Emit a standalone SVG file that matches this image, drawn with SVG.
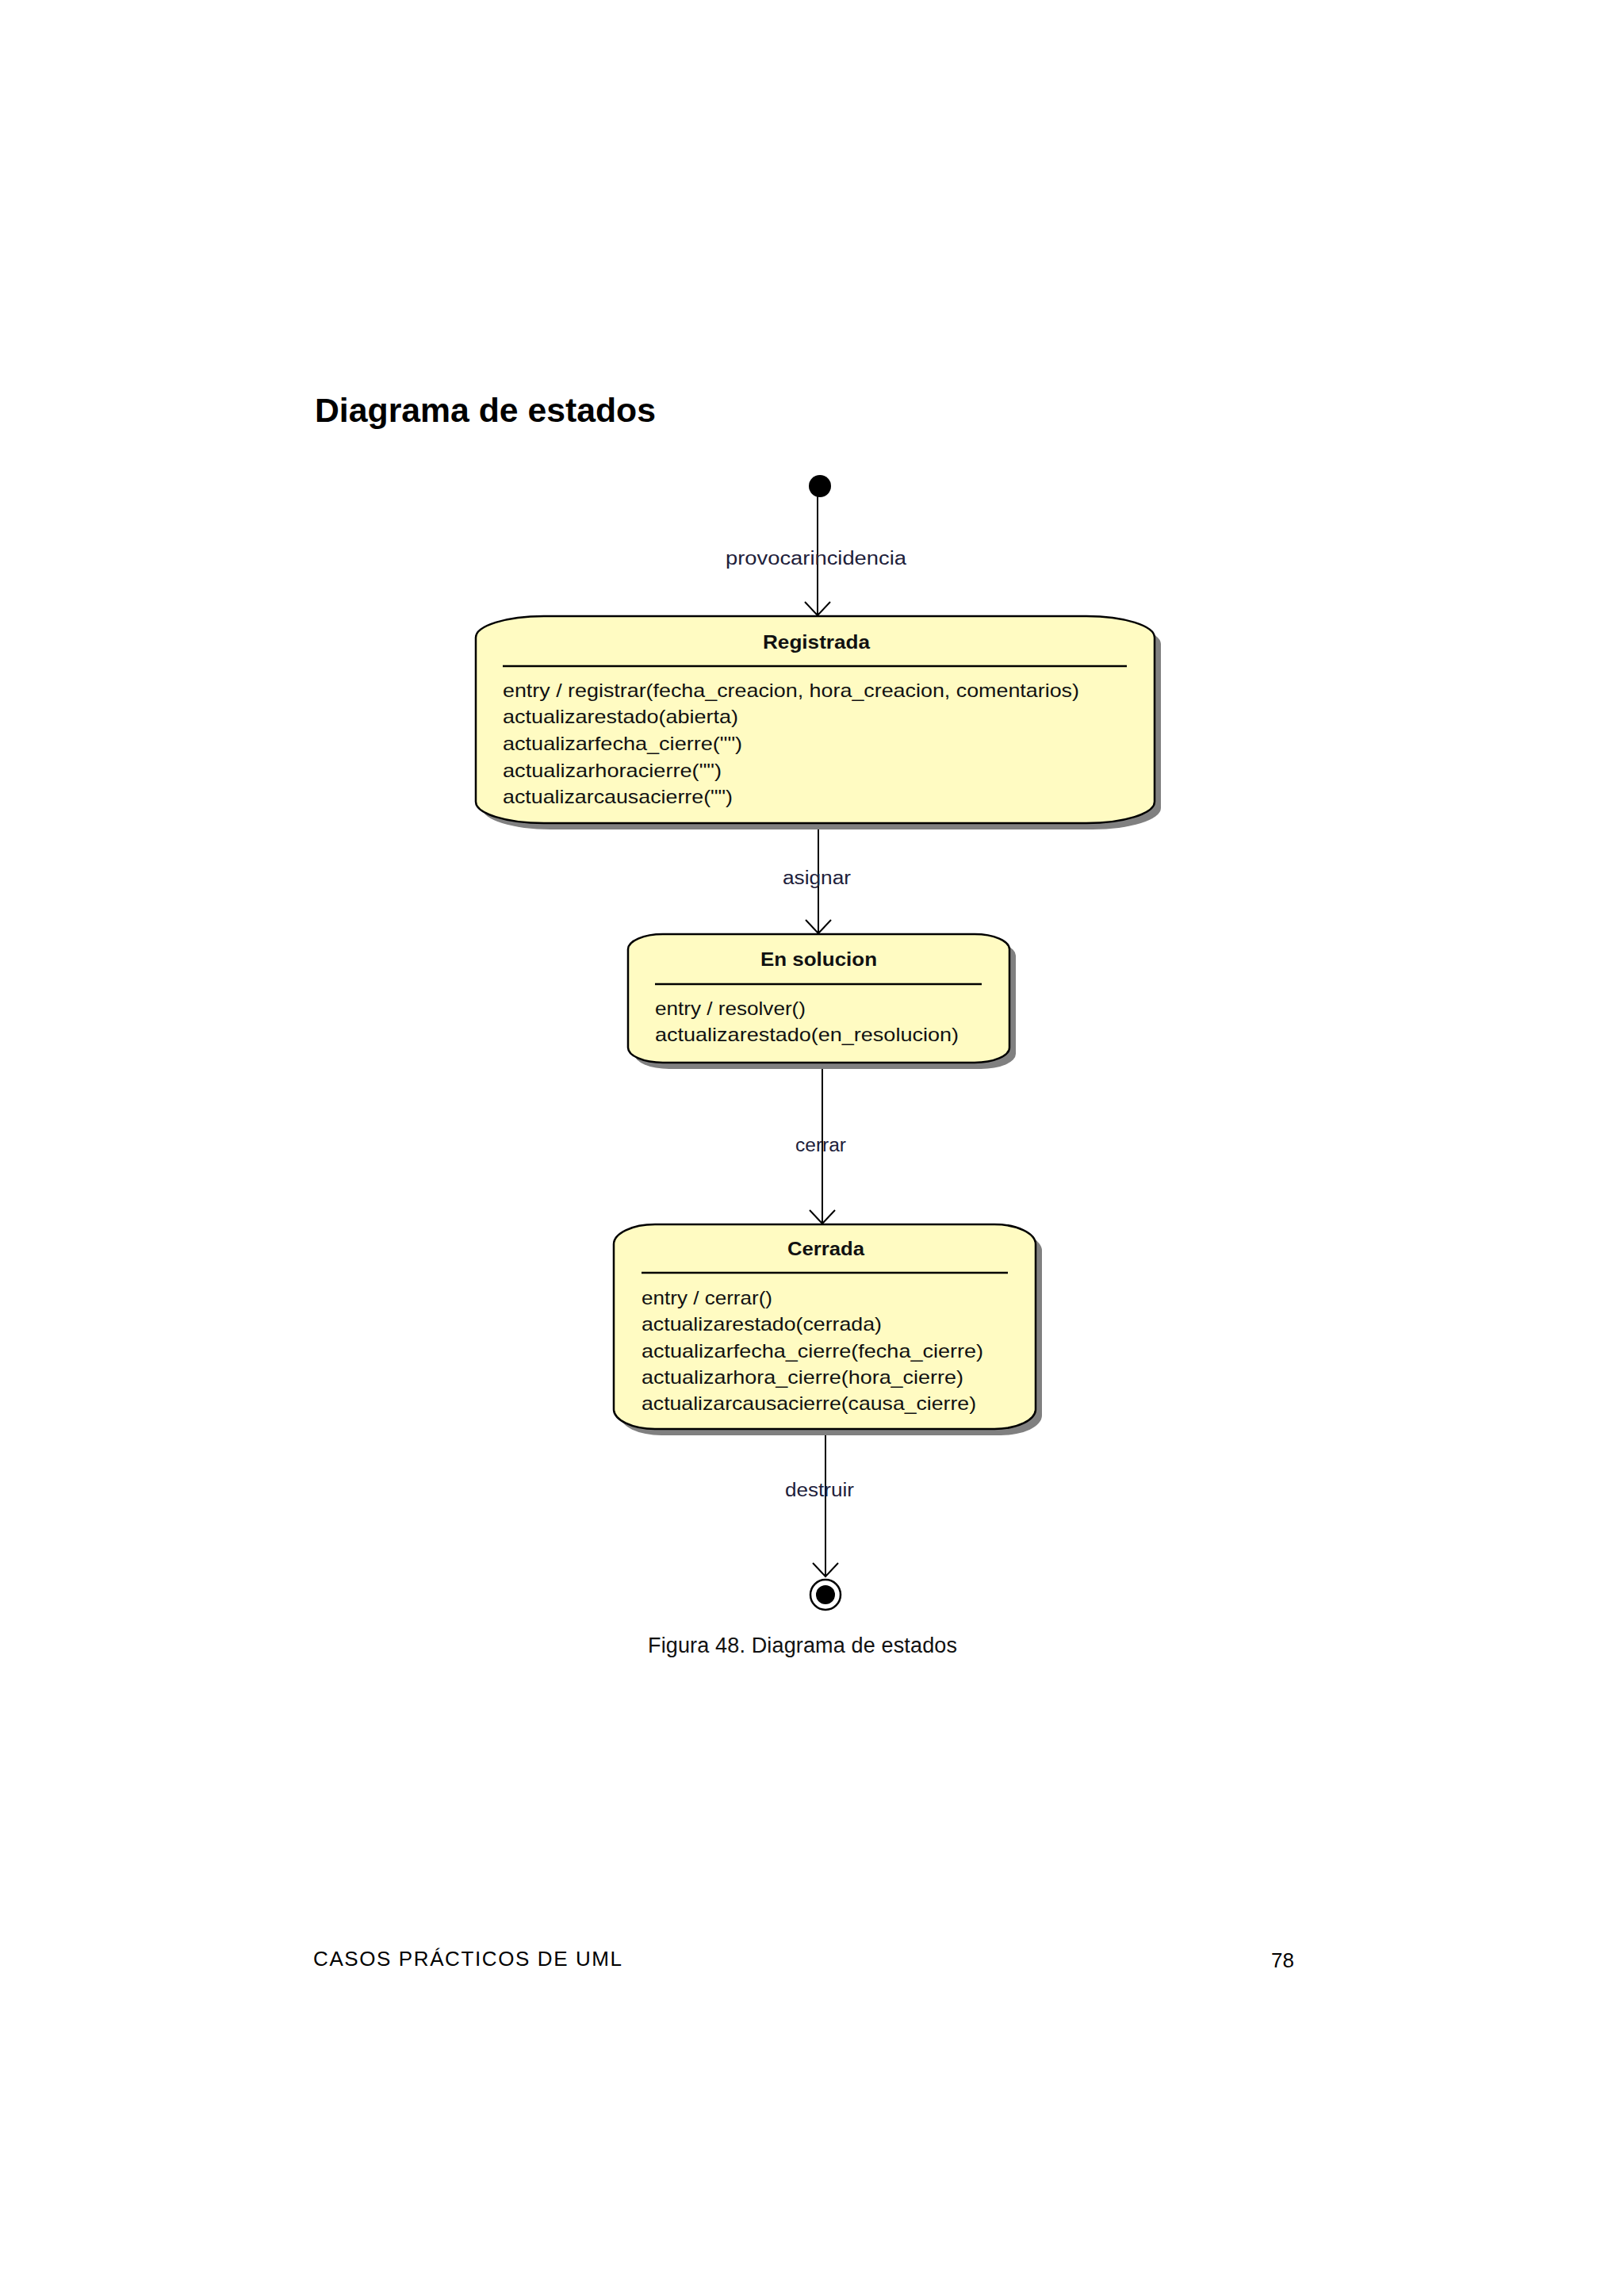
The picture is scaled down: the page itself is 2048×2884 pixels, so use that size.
<svg xmlns="http://www.w3.org/2000/svg" width="2048" height="2884" viewBox="0 0 2048 2884">
<style>
  .title { font-family: "Liberation Sans", Arial, sans-serif; font-weight: bold; font-size: 42px; fill: #000; }
  .caption { font-family: "Liberation Sans", Arial, sans-serif; font-size: 27px; fill: #111; }
  .footer { font-family: "Liberation Sans", Arial, sans-serif; font-size: 26px; fill: #000; }
  .sname { font-family: "Liberation Sans", Arial, sans-serif; font-weight: bold; font-size: 24px; fill: #111; }
  .act { font-family: "Liberation Sans", Arial, sans-serif; font-size: 24px; fill: #111; }
  .lbl { font-family: "Liberation Sans", Arial, sans-serif; font-size: 23px; fill: #20203a; }
  .box { fill: #FFFBC2; stroke: #000; stroke-width: 2.5; }
  .shadow { fill: #808080; }
  .sep { stroke: #000; stroke-width: 2.5; }
  .conn { stroke: #000; stroke-width: 2; fill: none; }
</style>
<defs>
  <marker id="open" markerWidth="40" markerHeight="40" refX="20" refY="20" orient="auto" markerUnits="userSpaceOnUse">
    <path d="M3,4 L20,20 L3,36" fill="none" stroke="#000" stroke-width="2"/>
  </marker>
</defs>
<rect width="2048" height="2884" fill="#FFFFFF"/>

<text class="title" x="397" y="532" textLength="430" lengthAdjust="spacingAndGlyphs">Diagrama de estados</text>

<g id="connectors">
  <line class="conn" x1="1031" y1="626" x2="1031" y2="776" marker-end="url(#open)"/>
  <line class="conn" x1="1032" y1="1046" x2="1032" y2="1177" marker-end="url(#open)"/>
  <line class="conn" x1="1037" y1="1348" x2="1037" y2="1543" marker-end="url(#open)"/>
  <line class="conn" x1="1041" y1="1809" x2="1041" y2="1988" marker-end="url(#open)"/>
  <text class="lbl" x="915" y="712" textLength="228" lengthAdjust="spacingAndGlyphs">provocarincidencia</text>
  <text class="lbl" x="987" y="1115" textLength="86" lengthAdjust="spacingAndGlyphs">asignar</text>
  <text class="lbl" x="1003" y="1452" textLength="64" lengthAdjust="spacingAndGlyphs">cerrar</text>
  <text class="lbl" x="990" y="1887" textLength="87" lengthAdjust="spacingAndGlyphs">destruir</text>
</g>

<g id="initial">
  <circle cx="1034" cy="613" r="14" fill="#000"/>
</g>

<g id="registrada">
  <rect class="shadow" x="608" y="785" width="856" height="261" rx="86" ry="27"/>
  <rect class="box" x="600" y="777" width="856" height="261" rx="86" ry="27"/>
  <text class="sname" x="962" y="818" textLength="135" lengthAdjust="spacingAndGlyphs">Registrada</text>
  <line class="sep" x1="634" y1="840" x2="1421" y2="840"/>
  <text class="act" x="634" y="879" textLength="727" lengthAdjust="spacingAndGlyphs">entry / registrar(fecha_creacion, hora_creacion, comentarios)</text>
  <text class="act" x="634" y="912" textLength="297" lengthAdjust="spacingAndGlyphs">actualizarestado(abierta)</text>
  <text class="act" x="634" y="946" textLength="302" lengthAdjust="spacingAndGlyphs">actualizarfecha_cierre("")</text>
  <text class="act" x="634" y="980" textLength="276" lengthAdjust="spacingAndGlyphs">actualizarhoracierre("")</text>
  <text class="act" x="634" y="1013" textLength="290" lengthAdjust="spacingAndGlyphs">actualizarcausacierre("")</text>
</g>

<g id="ensolucion">
  <rect class="shadow" x="800" y="1186" width="481" height="162" rx="44" ry="19"/>
  <rect class="box" x="792" y="1178" width="481" height="162" rx="44" ry="19"/>
  <text class="sname" x="959" y="1218" textLength="147" lengthAdjust="spacingAndGlyphs">En solucion</text>
  <line class="sep" x1="826" y1="1241" x2="1238" y2="1241"/>
  <text class="act" x="826" y="1280" textLength="190" lengthAdjust="spacingAndGlyphs">entry / resolver()</text>
  <text class="act" x="826" y="1313" textLength="383" lengthAdjust="spacingAndGlyphs">actualizarestado(en_resolucion)</text>
</g>

<g id="cerrada">
  <rect class="shadow" x="782" y="1552" width="532" height="258" rx="52" ry="25"/>
  <rect class="box" x="774" y="1544" width="532" height="258" rx="52" ry="25"/>
  <text class="sname" x="993" y="1583" textLength="97" lengthAdjust="spacingAndGlyphs">Cerrada</text>
  <line class="sep" x1="809" y1="1605" x2="1271" y2="1605"/>
  <text class="act" x="809" y="1645" textLength="165" lengthAdjust="spacingAndGlyphs">entry / cerrar()</text>
  <text class="act" x="809" y="1678" textLength="303" lengthAdjust="spacingAndGlyphs">actualizarestado(cerrada)</text>
  <text class="act" x="809" y="1712" textLength="431" lengthAdjust="spacingAndGlyphs">actualizarfecha_cierre(fecha_cierre)</text>
  <text class="act" x="809" y="1745" textLength="406" lengthAdjust="spacingAndGlyphs">actualizarhora_cierre(hora_cierre)</text>
  <text class="act" x="809" y="1778" textLength="422" lengthAdjust="spacingAndGlyphs">actualizarcausacierre(causa_cierre)</text>
</g>

<g id="final">
  <circle cx="1041" cy="2011" r="19" fill="#FFF" stroke="#000" stroke-width="2.5"/>
  <circle cx="1041" cy="2011" r="12" fill="#000"/>
</g>

<text class="caption" x="817" y="2084" textLength="390" lengthAdjust="spacing">Figura 48. Diagrama de estados</text>
<text class="footer" x="395" y="2479" textLength="389" lengthAdjust="spacing">CASOS PRÁCTICOS DE UML</text>
<text class="footer" x="1603" y="2481">78</text>
</svg>
